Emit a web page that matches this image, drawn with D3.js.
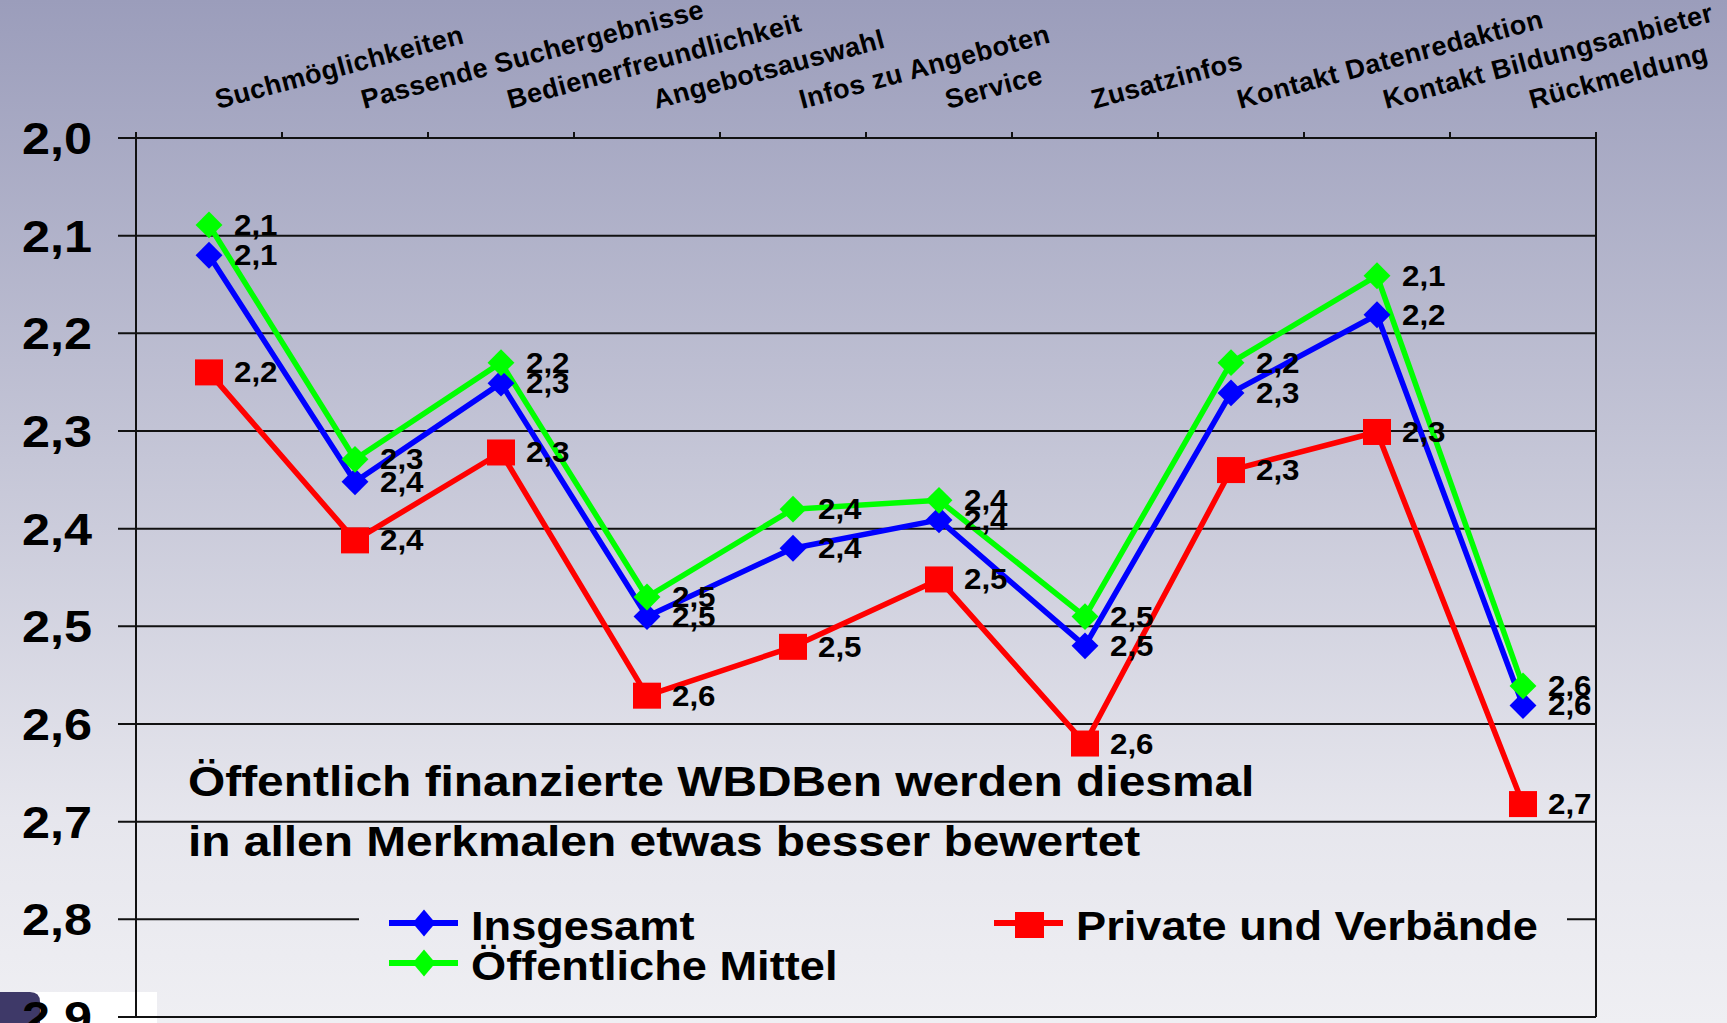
<!DOCTYPE html>
<html lang="de">
<head>
  <meta charset="UTF-8">
  <title>Bewertung der Merkmale</title>
  <script src="https://d3js.org/d3.v7.min.js"></script>
  <style>
    body {
      margin: 0;
      overflow: hidden;
      background: #eeeef3;
    }
    svg {
      display: block;
      font-family: "Liberation Sans", Arial, sans-serif;
      font-weight: bold;
    }
  </style>
</head>
<body>
  <script>
    const width = 1727;
    const height = 1023;

    // data (lower = better)
    const categories = [
      "Suchmöglichkeiten", "Passende Suchergebnisse", "Bedienerfreundlichkeit",
      "Angebotsauswahl", "Infos zu Angeboten", "Service", "Zusatzinfos",
      "Kontakt Datenredaktion", "Kontakt Bildungsanbieter", "Rückmeldung"
    ];
    const insgesamt   = [2.12, 2.352, 2.251, 2.49, 2.42, 2.391, 2.52, 2.261, 2.181, 2.581];
    const privat      = [2.24, 2.412, 2.322, 2.571, 2.521, 2.452, 2.62, 2.34, 2.301, 2.682];
    const oeffentlich = [2.089, 2.329, 2.23, 2.47, 2.38, 2.371, 2.49, 2.23, 2.141, 2.561];
    const yTicks = [2.0, 2.1, 2.2, 2.3, 2.4, 2.5, 2.6, 2.7, 2.8, 2.9];
    const note = [
      "Öffentlich finanzierte WBDBen werden diesmal",
      "in allen Merkmalen etwas besser bewertet"
    ];

    const series = [
      { name: "Insgesamt", values: insgesamt, color: "#0000ff", shape: "diamond" },
      { name: "Private und Verbände", values: privat, color: "#ff0000", shape: "square" },
      { name: "Öffentliche Mittel", values: oeffentlich, color: "#00ff00", shape: "diamond" }
    ];

    const fmt = v => d3.format(".1f")(v).replace(".", ",");

    const plot = { left: 136, right: 1596, top: 138, bottom: 1017 };

    const x = d3.scaleBand().domain(categories).range([plot.left, plot.right]).padding(0);
    const cx = c => x(c) + x.bandwidth() / 2;
    const y = d3.scaleLinear().domain([2.0, 2.9]).range([plot.top, plot.bottom]);

    const svg = d3.select("body").append("svg")
      .attr("width", width)
      .attr("height", height);

    // background like the slide
    const defs = svg.append("defs");
    const grad = defs.append("linearGradient")
      .attr("id", "bg")
      .attr("gradientUnits", "userSpaceOnUse")
      .attr("x1", 0).attr("y1", 0).attr("x2", 0).attr("y2", height);
    grad.append("stop").attr("offset", 0).attr("stop-color", "#9b9dbb");
    grad.append("stop").attr("offset", 0.45).attr("stop-color", "#c5c6d7");
    grad.append("stop").attr("offset", 0.8).attr("stop-color", "#e6e6ed");
    grad.append("stop").attr("offset", 1).attr("stop-color", "#efeff3");

    svg.append("rect").attr("width", width).attr("height", height).attr("fill", "url(#bg)");

    // leftover bits of the slide in the bottom-left corner
    svg.append("rect").attr("x", 0).attr("y", 992).attr("width", 157).attr("height", 40).attr("fill", "#ffffff");
    svg.append("path")
      .attr("d", "M0,992 H30 Q40,992 40,1002 V1023 H0 Z")
      .attr("fill", "#3e3968");

    // gridlines + y axis labels
    const grid = svg.append("g");
    grid.selectAll("line.grid")
      .data(yTicks)
      .join("line")
      .attr("class", "grid")
      .attr("x1", plot.left - 18)
      .attr("x2", plot.right)
      .attr("y1", d => y(d))
      .attr("y2", d => y(d))
      .attr("stroke", "#111")
      .attr("stroke-width", 2);

    grid.selectAll("text")
      .data(yTicks)
      .join("text")
      .attr("transform", d => `translate(92,${y(d) + 16}) scale(1.12,1)`)
      .attr("text-anchor", "end")
      .attr("font-size", 45)
      .attr("fill", "#000")
      .text(fmt);

    // left and right axis
    svg.append("line")
      .attr("x1", plot.left).attr("x2", plot.left)
      .attr("y1", plot.top - 6).attr("y2", plot.bottom)
      .attr("stroke", "#111").attr("stroke-width", 2);
    svg.append("line")
      .attr("x1", plot.right).attr("x2", plot.right)
      .attr("y1", plot.top - 6).attr("y2", plot.bottom)
      .attr("stroke", "#111").attr("stroke-width", 2);

    // category ticks on the top axis
    const bounds = categories.map(c => x(c)).concat([plot.right]);
    svg.selectAll("line.ctick")
      .data(bounds)
      .join("line")
      .attr("class", "ctick")
      .attr("x1", d => d).attr("x2", d => d)
      .attr("y1", plot.top - 6).attr("y2", plot.top)
      .attr("stroke", "#111").attr("stroke-width", 2);

    // category labels, slanted
    svg.selectAll("text.cat")
      .data(categories)
      .join("text")
      .attr("class", "cat")
      .attr("transform", d => `translate(${cx(d) + 9},109) rotate(-15)`)
      .attr("font-size", 27)
      .attr("letter-spacing", 0.5)
      .attr("fill", "#000")
      .text(d => d);

    // note in the plot
    svg.append("g").selectAll("text")
      .data(note)
      .join("text")
      .attr("transform", (d, i) => `translate(188,${796 + i * 60}) scale(1.14,1)`)
      .attr("font-size", 42)
      .attr("fill", "#000")
      .text(d => d);

    // lines
    const line = d3.line()
      .x((d, i) => cx(categories[i]))
      .y(d => y(d));

    series.forEach(s => {
      svg.append("path")
        .datum(s.values)
        .attr("d", line)
        .attr("fill", "none")
        .attr("stroke", s.color)
        .attr("stroke-width", 5.5)
        .attr("stroke-linejoin", "round");
    });

    // markers
    function drawMarker(g, shape, color, px, py, sx) {
      if (shape === "diamond") {
        g.append("rect")
          .attr("x", -9.5).attr("y", -9.5)
          .attr("width", 19).attr("height", 19)
          .attr("fill", color)
          .attr("transform", `translate(${px},${py}) scale(${sx},1) rotate(45)`);
      } else {
        g.append("rect")
          .attr("x", px - 14).attr("y", py - 13)
          .attr("width", 28).attr("height", 26)
          .attr("fill", color);
      }
    }

    series.forEach(s => {
      const g = svg.append("g");
      s.values.forEach((v, i) => drawMarker(g, s.shape, s.color, cx(categories[i]), y(v), 1));
    });

    // value labels
    series.forEach(s => {
      svg.append("g").selectAll("text")
        .data(s.values)
        .join("text")
        .attr("transform", (d, i) => `translate(${cx(categories[i]) + 25},${y(d) + 10}) scale(1.08,1)`)
        .attr("font-size", 29)
        .attr("fill", "#000")
        .text(fmt);
    });

    // legend (hides the 2,8 gridline behind it)
    const legend = svg.append("g");
    legend.append("rect")
      .attr("x", 359).attr("y", 895)
      .attr("width", 1567 - 359).attr("height", 105)
      .attr("fill", "url(#bg)");

    const legendPos = [
      { x: 389, y: 923 },
      { x: 994, y: 923 },
      { x: 389, y: 963 }
    ];

    series.forEach((s, i) => {
      const p = legendPos[i];
      legend.append("line")
        .attr("x1", p.x).attr("x2", p.x + 69)
        .attr("y1", p.y).attr("y2", p.y)
        .attr("stroke", s.color).attr("stroke-width", 6);
      if (s.shape === "diamond") {
        drawMarker(legend, "diamond", s.color, p.x + 35, p.y, 0.85);
      } else {
        legend.append("rect")
          .attr("x", p.x + 21).attr("y", p.y - 11)
          .attr("width", 29).attr("height", 26)
          .attr("fill", s.color);
      }
      legend.append("text")
        .attr("transform", `translate(${p.x + 82},${p.y + 17}) scale(1.13,1)`)
        .attr("font-size", 40)
        .attr("fill", "#000")
        .text(s.name);
    });
  </script>
</body>
</html>
